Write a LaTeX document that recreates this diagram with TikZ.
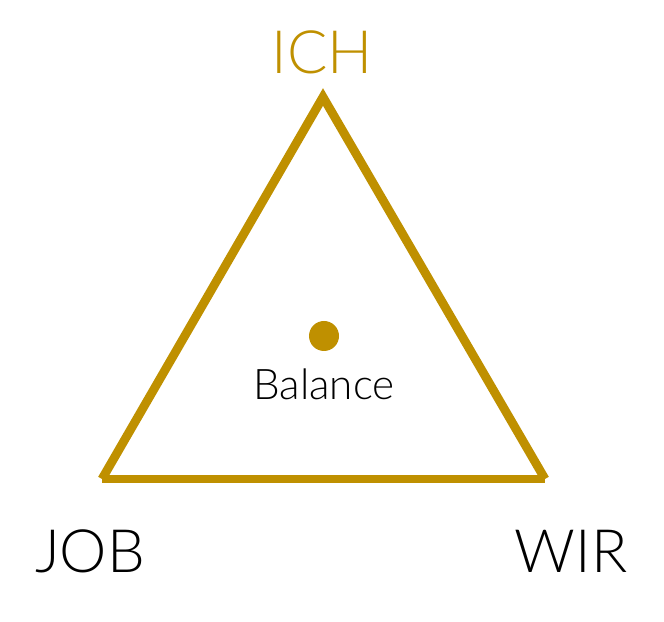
\documentclass[tikz,border=0pt]{standalone}
\usepackage{fontspec}
\setmainfont{Lato Light}
\usetikzlibrary{positioning}
\definecolor{gold}{RGB}{191,144,0}

\begin{document}
\begin{tikzpicture}[x=0.01cm, y=-0.01cm, side/.style={draw=gold, line width=2.5pt},
  corner/.style={font=\fontsize{17}{20}\selectfont, inner sep=0pt}]
  \useasboundingbox (0,0) rectangle (664,622);
  \coordinate (top) at (323,97);
  \coordinate (left) at (102,479);
  \coordinate (right) at (545,479);

  \node[corner, text=gold] (ich) at (322,52) {ICH};
  \node[corner] (job) at (90,551) {JOB};
  \node[corner] (wir) at (571,551) {WIR};

  \fill[gold] (324,336) circle (15) coordinate (dot);
  \node[font=\fontsize{12}{14}\selectfont, inner sep=0pt] (balance) at (324,384) {Balance};

  \draw[side, line join=miter] (left) -- (top) -- (right);
  \draw[side] (left) -- (right);
\end{tikzpicture}
\end{document}
